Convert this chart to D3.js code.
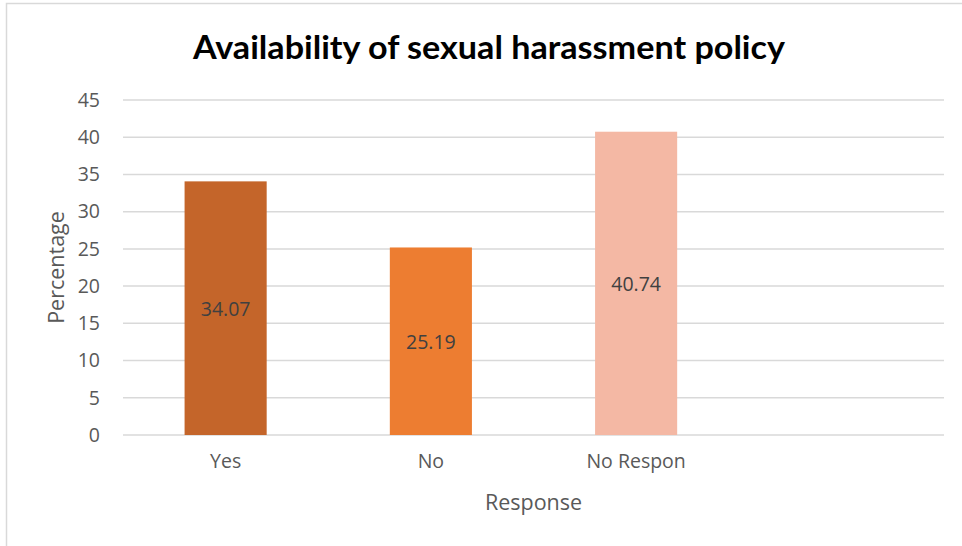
<!DOCTYPE html>
<html><head><meta charset="utf-8">
<script src="https://cdn.jsdelivr.net/npm/d3@7"></script>
<style>body{margin:0;background:#fff;} svg{display:block;}</style>
</head><body>
<svg id="c" width="962" height="546"></svg>
<script>
const categories = ["Yes", "No", "No Respon", ""];
const values = [34.07, 25.19, 40.74];
const colors = ["#C4652A", "#ED7D31", "#F4B8A4"];
const yTicks = [0, 5, 10, 15, 20, 25, 30, 35, 40, 45];
const title = "Availability of sexual harassment policy";
const xTitle = "Response";
const yTitle = "Percentage";

const svg = d3.select("#c");
const font = "'Open Sans', sans-serif";
const m = {left: 123, right: 944, top: 100, bottom: 435};

svg.append("rect").attr("x", 6.5).attr("y", 3.5).attr("width", 1000).attr("height", 600)
  .attr("fill", "#fff").attr("stroke", "#d9d9d9").attr("stroke-width", 1.5);

const x = d3.scaleBand().domain(categories).range([m.left, m.right]).paddingInner(0.6).paddingOuter(0.3);
const y = d3.scaleLinear().domain([0, 45]).range([m.bottom, m.top]);

// gridlines
svg.append("g").selectAll("line").data(yTicks).join("line")
  .attr("x1", m.left).attr("x2", m.right)
  .attr("y1", d => y(d)).attr("y2", d => y(d))
  .attr("stroke", "#d9d9d9").attr("stroke-width", 1.5);

// y axis labels
const yAxis = d3.axisLeft(y).tickValues(yTicks).tickSize(0).tickPadding(0);
const ya = svg.append("g").attr("transform", `translate(100,0)`).call(yAxis);
ya.select(".domain").remove();
ya.selectAll("text").attr("fill", "#595959").style("font-family", font).style("font-size", "19.5px");

// bars
const data = values.map((v, i) => ({c: categories[i], v, col: colors[i]}));
svg.append("g").selectAll("rect").data(data).join("rect")
  .attr("x", d => x(d.c)).attr("width", x.bandwidth())
  .attr("y", d => y(d.v)).attr("height", d => y(0) - y(d.v))
  .attr("fill", d => d.col);

// data labels
svg.append("g").selectAll("text").data(data).join("text")
  .attr("x", d => x(d.c) + x.bandwidth() / 2)
  .attr("y", d => (y(d.v) + y(0)) / 2)
  .attr("text-anchor", "middle").attr("dominant-baseline", "central")
  .attr("fill", "#404040").style("font-family", font).style("font-size", "19.5px")
  .text(d => d.v.toFixed(2));

// x axis
const xAxis = d3.axisBottom(x).tickSize(0).tickPadding(0);
const xa = svg.append("g").attr("transform", `translate(0,${m.bottom + 19})`).call(xAxis);
xa.select(".domain").remove();
xa.selectAll("text").attr("fill", "#595959").style("font-family", font).style("font-size", "19.5px");

// titles
svg.append("text").attr("x", 489).attr("y", 59).attr("text-anchor", "middle")
  .attr("textLength", 592).attr("lengthAdjust", "spacingAndGlyphs")
  .style("font-family", "Lato, 'Open Sans', sans-serif").style("font-weight", "bold").style("font-size", "32px")
  .attr("fill", "#000").text(title);
svg.append("text").attr("x", (m.left + m.right) / 2).attr("y", 510).attr("text-anchor", "middle")
  .attr("fill", "#595959").style("font-family", font).style("font-size", "21.5px").text(xTitle);
svg.append("text").attr("transform", `translate(64,${(m.top + m.bottom) / 2}) rotate(-90)`)
  .attr("text-anchor", "middle").attr("fill", "#595959")
  .style("font-family", font).style("font-size", "21.5px").text(yTitle);
</script>
</body></html>
